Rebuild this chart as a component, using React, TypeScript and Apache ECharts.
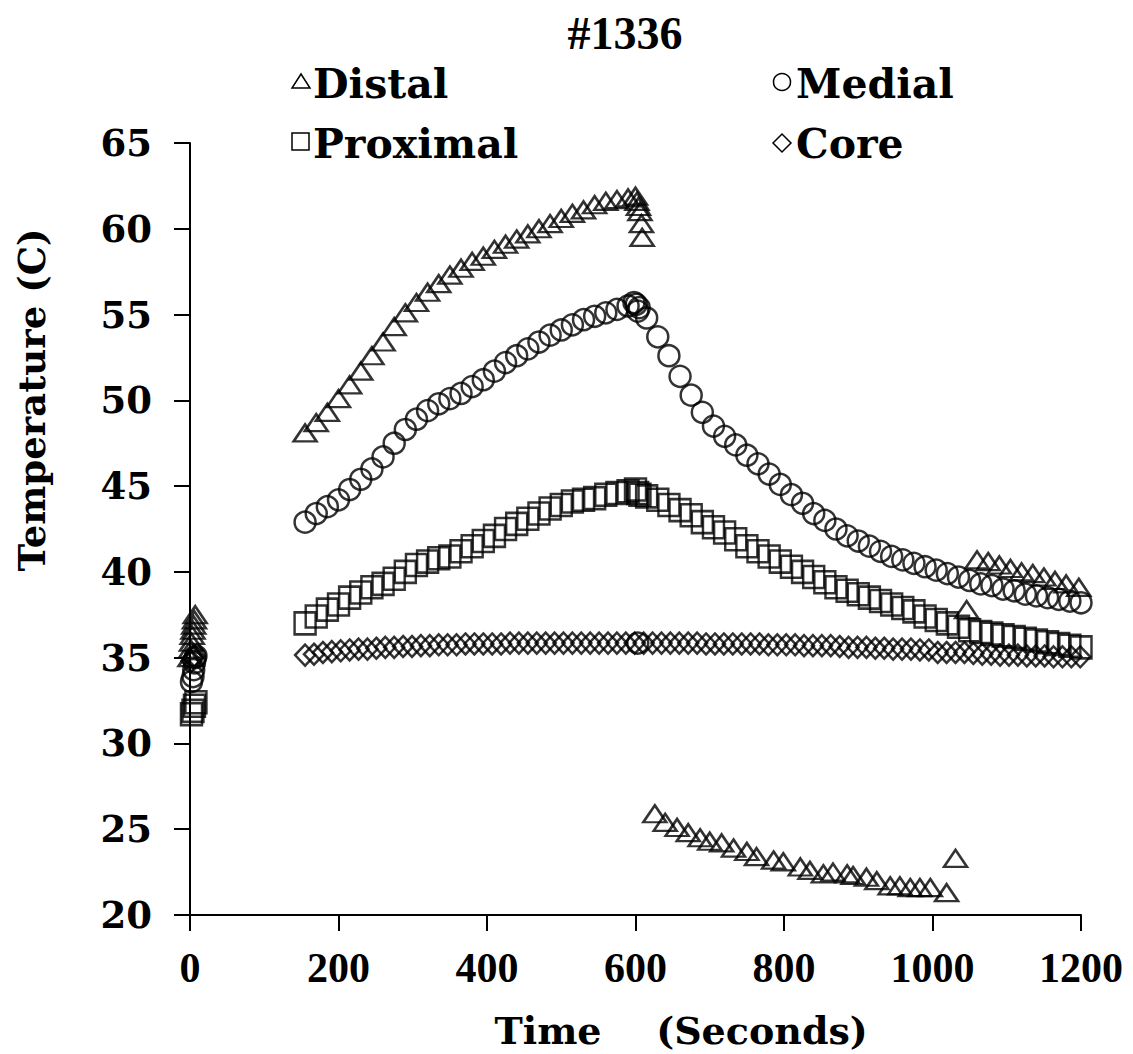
import React, { useEffect, useRef } from "react";
import * as echarts from "echarts";

// Thermocouple readings, [time (s), temperature (C)]
const DISTAL_START: [number, number][] = [
  [0, 35.0], [1, 35.5], [2, 35.9], [3, 36.3], [4, 36.6], [5, 36.9], [6, 37.2], [7, 37.5],
];
const DISTAL_HEAT: [number, number][] = [
  [155, 48.1], [170, 48.7], [185, 49.3], [200, 50.1], [215, 50.9], [230, 51.7], [245, 52.6],
  [260, 53.4], [275, 54.3], [290, 55.1], [305, 55.7], [320, 56.3], [335, 56.8], [350, 57.3],
  [365, 57.7], [380, 58.1], [395, 58.4], [410, 58.8], [425, 59.1], [440, 59.4], [455, 59.7],
  [470, 60.0], [485, 60.3], [500, 60.6], [515, 60.9], [530, 61.1], [545, 61.4], [560, 61.6],
  [575, 61.7], [590, 61.8], [600, 61.9], [602, 61.6], [604, 61.3], [606, 61.0], [608, 60.3],
  [609, 59.5],
];
const DISTAL_COOL: [number, number][] = [
  [626, 25.9], [640, 25.4], [656, 25.1], [671, 24.8], [687, 24.5], [700, 24.3], [716, 24.2],
  [732, 23.9], [750, 23.7], [763, 23.4], [786, 23.2], [799, 23.1], [822, 22.8], [835, 22.6],
  [853, 22.4], [866, 22.5], [885, 22.4], [893, 22.3], [911, 22.2], [925, 22.0], [943, 21.7],
  [956, 21.7], [970, 21.6], [983, 21.6], [997, 21.6], [1019, 21.3], [1031, 23.3], [1046, 37.8],
  [1060, 40.7], [1075, 40.6], [1090, 40.4], [1105, 40.2], [1120, 40.0], [1135, 39.9],
  [1150, 39.7], [1165, 39.5], [1180, 39.3], [1197, 39.1],
];

const MEDIAL_START: [number, number][] = [
  [2, 33.6], [4, 33.9], [5, 34.3], [6, 34.7], [7, 35.0], [8, 35.1],
];
const MEDIAL_HEAT: [number, number][] = [
  [155, 42.9], [170, 43.4], [185, 43.8], [200, 44.2], [215, 44.8], [230, 45.4], [245, 46.0],
  [260, 46.7], [275, 47.5], [290, 48.3], [305, 48.9], [320, 49.4], [335, 49.8], [350, 50.1],
  [365, 50.4], [380, 50.8], [395, 51.2], [410, 51.7], [425, 52.2], [440, 52.6], [455, 53.0],
  [470, 53.4], [485, 53.8], [500, 54.1], [515, 54.4], [530, 54.7], [545, 54.9], [560, 55.1],
  [575, 55.3], [590, 55.5], [598, 55.7], [601, 55.6], [603, 55.2], [605, 55.4], [603, 35.85],
];
const MEDIAL_COOL: [number, number][] = [
  [615, 54.8], [630, 53.7], [645, 52.6], [660, 51.4], [675, 50.3], [690, 49.3], [705, 48.5],
  [720, 47.9], [735, 47.4], [750, 46.8], [765, 46.3], [780, 45.7], [795, 45.1], [810, 44.5],
  [825, 44.0], [840, 43.4], [855, 43.0], [870, 42.5], [885, 42.1], [900, 41.8], [915, 41.5],
  [930, 41.2], [945, 40.9], [960, 40.7], [975, 40.5], [990, 40.3], [1005, 40.1], [1020, 39.9],
  [1035, 39.7], [1050, 39.5], [1065, 39.3], [1080, 39.2], [1095, 39.0], [1110, 38.9],
  [1125, 38.7], [1140, 38.6], [1155, 38.5], [1170, 38.4], [1185, 38.3], [1200, 38.2],
];

const PROXIMAL_START: [number, number][] = [
  [2, 31.7], [4, 31.9], [6, 32.2], [8, 32.4],
];
const PROXIMAL_HEAT: [number, number][] = [
  [155, 37.0], [170, 37.4], [185, 37.8], [200, 38.1], [215, 38.5], [230, 38.8], [245, 39.1],
  [260, 39.3], [275, 39.6], [290, 40.0], [305, 40.4], [320, 40.6], [335, 40.8], [350, 40.9],
  [365, 41.2], [380, 41.5], [395, 41.8], [410, 42.1], [425, 42.5], [440, 42.8], [455, 43.1],
  [470, 43.4], [485, 43.7], [500, 43.9], [515, 44.1], [530, 44.2], [545, 44.3], [560, 44.5],
  [575, 44.6], [590, 44.7], [600, 44.8], [603, 44.6], [606, 44.5],
];
const PROXIMAL_COOL: [number, number][] = [
  [615, 44.4], [630, 44.2], [645, 43.9], [660, 43.6], [675, 43.3], [690, 42.9], [705, 42.6],
  [720, 42.3], [735, 41.9], [750, 41.5], [765, 41.2], [780, 40.9], [795, 40.6], [810, 40.3],
  [825, 40.0], [840, 39.7], [855, 39.4], [870, 39.1], [885, 38.9], [900, 38.7], [915, 38.5],
  [930, 38.3], [945, 38.1], [960, 37.9], [975, 37.7], [990, 37.4], [1005, 37.2], [1020, 37.0],
  [1035, 36.8], [1050, 36.6], [1065, 36.5], [1080, 36.4], [1095, 36.3], [1110, 36.2],
  [1125, 36.1], [1140, 36.0], [1155, 35.9], [1170, 35.8], [1185, 35.7], [1200, 35.6],
];

const CORE_START: [number, number][] = [[2, 34.8], [4, 35.0], [6, 35.1]];
const CORE_RUN: [number, number][] = [
  [155, 35.15], [167, 35.2], [179, 35.3], [191, 35.35], [203, 35.4], [215, 35.45], [227, 35.5],
  [239, 35.5], [251, 35.55], [263, 35.6], [275, 35.6], [287, 35.65], [299, 35.65], [311, 35.7],
  [323, 35.7], [335, 35.75], [347, 35.75], [359, 35.75], [371, 35.8], [383, 35.8], [395, 35.8],
  [407, 35.8], [419, 35.8], [431, 35.85], [443, 35.85], [455, 35.85], [467, 35.85], [479, 35.85],
  [491, 35.85], [503, 35.85], [515, 35.85], [527, 35.85], [539, 35.85], [551, 35.85],
  [563, 35.85], [575, 35.85], [587, 35.85], [599, 35.85], [611, 35.85], [623, 35.85],
  [635, 35.85], [647, 35.85], [659, 35.85], [671, 35.85], [683, 35.85], [695, 35.8], [707, 35.8],
  [719, 35.8], [731, 35.8], [743, 35.8], [755, 35.8], [767, 35.8], [779, 35.75], [791, 35.75],
  [803, 35.75], [815, 35.75], [827, 35.7], [839, 35.7], [851, 35.7], [863, 35.7], [875, 35.65],
  [887, 35.6], [899, 35.6], [911, 35.6], [923, 35.55], [935, 35.55], [947, 35.5], [959, 35.5],
  [971, 35.5], [983, 35.45], [995, 35.45], [1007, 35.3], [1019, 35.3], [1031, 35.3],
  [1043, 35.3], [1055, 35.25], [1067, 35.2], [1079, 35.2], [1091, 35.15], [1103, 35.15],
  [1115, 35.15], [1127, 35.1], [1139, 35.1], [1151, 35.1], [1163, 35.05], [1175, 35.05],
  [1187, 35.05], [1199, 35.05],
];

const X_TICKS = [0, 200, 400, 600, 800, 1000, 1200];
const Y_TICKS = [20, 25, 30, 35, 40, 45, 50, 55, 60, 65];

const SERIF_BOLD = "'DejaVu Serif', serif";
const TIMES = "'Liberation Serif', 'Times New Roman', serif";

const hollow = {
  color: "transparent",
  borderColor: "#000",
  borderWidth: 2.5,
};

export default function App() {
  const ref = useRef<HTMLDivElement>(null);

  useEffect(() => {
    document.body.style.margin = "0";
    const chart = echarts.init(ref.current!, undefined, { renderer: "svg" });

    const series = [
      {
        name: "Core",
        symbol: "diamond",
        symbolSize: [20, 21],
        data: [...CORE_START, ...CORE_RUN],
      },
      {
        name: "Proximal",
        symbol: "rect",
        symbolSize: [21, 22],
        data: [...PROXIMAL_START, ...PROXIMAL_HEAT, ...PROXIMAL_COOL],
      },
      {
        name: "Medial",
        symbol: "circle",
        symbolSize: 21,
        data: [...MEDIAL_START, ...MEDIAL_HEAT, ...MEDIAL_COOL],
      },
      {
        name: "Distal",
        symbol: "triangle",
        symbolSize: [23, 17],
        data: [...DISTAL_START, ...DISTAL_HEAT, ...DISTAL_COOL],
      },
    ].map((s) => ({
      ...s,
      type: "scatter",
      itemStyle: hollow,
      emphasis: { disabled: true },
    }));

    // legend name, vertically centred on its capital letters
    const legendText = (text: string, x: number, mid: number) => ({
      type: "text",
      x,
      y: mid,
      style: {
        text,
        font: `bold 41px ${SERIF_BOLD}`,
        fill: "#000",
        align: "left",
        verticalAlign: "middle",
      },
    });

    const markStyle = { fill: "none", stroke: "#000", lineWidth: 1.5 };

    chart.setOption({
      animation: false,
      backgroundColor: "#fff",
      title: {
        text: "#1336",
        left: 620,
        top: 5,
        textAlign: "center",
        textStyle: {
          fontFamily: TIMES,
          fontWeight: "bold",
          fontSize: 46,
          color: "#000",
        },
      },
      grid: { left: 190, right: 52, top: 143, bottom: 139 },
      xAxis: {
        type: "value",
        min: 0,
        max: 1200,
        interval: 200,
        splitLine: { show: false },
        axisLine: { show: true, onZero: false, lineStyle: { color: "#000", width: 2 } },
        axisTick: { show: true, inside: false, length: 16, lineStyle: { color: "#000", width: 2 } },
        axisLabel: {
          margin: 32,
          color: "#000",
          fontFamily: TIMES,
          fontWeight: "bold",
          fontSize: 42,
          formatter: (v: number) => (X_TICKS.includes(v) ? String(v) : ""),
        },
      },
      yAxis: {
        type: "value",
        min: 20,
        max: 65,
        interval: 5,
        splitLine: { show: false },
        axisLine: { show: true, onZero: false, lineStyle: { color: "#000", width: 2 } },
        axisTick: { show: true, inside: false, length: 16, lineStyle: { color: "#000", width: 2 } },
        axisLabel: {
          margin: 38,
          color: "#000",
          fontFamily: SERIF_BOLD,
          fontWeight: "bold",
          fontSize: 37,
          formatter: (v: number) => (Y_TICKS.includes(v) ? String(v) : ""),
        },
      },
      graphic: [
        // legend marks and names
        {
          type: "polygon",
          shape: { points: [[292, 88], [310, 88], [301, 74]] },
          style: markStyle,
        },
        legendText("Distal", 313, 84),
        {
          type: "circle",
          shape: { cx: 782, cy: 82, r: 8.5 },
          style: markStyle,
        },
        legendText("Medial", 796, 84),
        {
          type: "rect",
          shape: { x: 292, y: 133, width: 17, height: 17 },
          style: markStyle,
        },
        legendText("Proximal", 313, 144),
        {
          type: "polygon",
          shape: { points: [[773, 143], [782, 134], [791, 143], [782, 152]] },
          style: markStyle,
        },
        legendText("Core", 796, 144),
        // axis titles
        {
          type: "text",
          x: 32,
          y: 400,
          rotation: Math.PI / 2,
          style: {
            text: "Temperature (C)",
            font: `bold 37px ${SERIF_BOLD}`,
            fill: "#000",
            align: "center",
            verticalAlign: "middle",
          },
        },
        {
          type: "text",
          x: 548,
          y: 1030,
          style: {
            text: "Time",
            font: `bold 38px ${SERIF_BOLD}`,
            fill: "#000",
            align: "center",
            verticalAlign: "middle",
          },
        },
        {
          type: "text",
          x: 762,
          y: 1030,
          style: {
            text: "(Seconds)",
            font: `bold 38px ${SERIF_BOLD}`,
            fill: "#000",
            align: "center",
            verticalAlign: "middle",
          },
        },
      ],
      series,
    });

    return () => chart.dispose();
  }, []);

  return <div ref={ref} style={{ width: 1133, height: 1054 }} />;
}
